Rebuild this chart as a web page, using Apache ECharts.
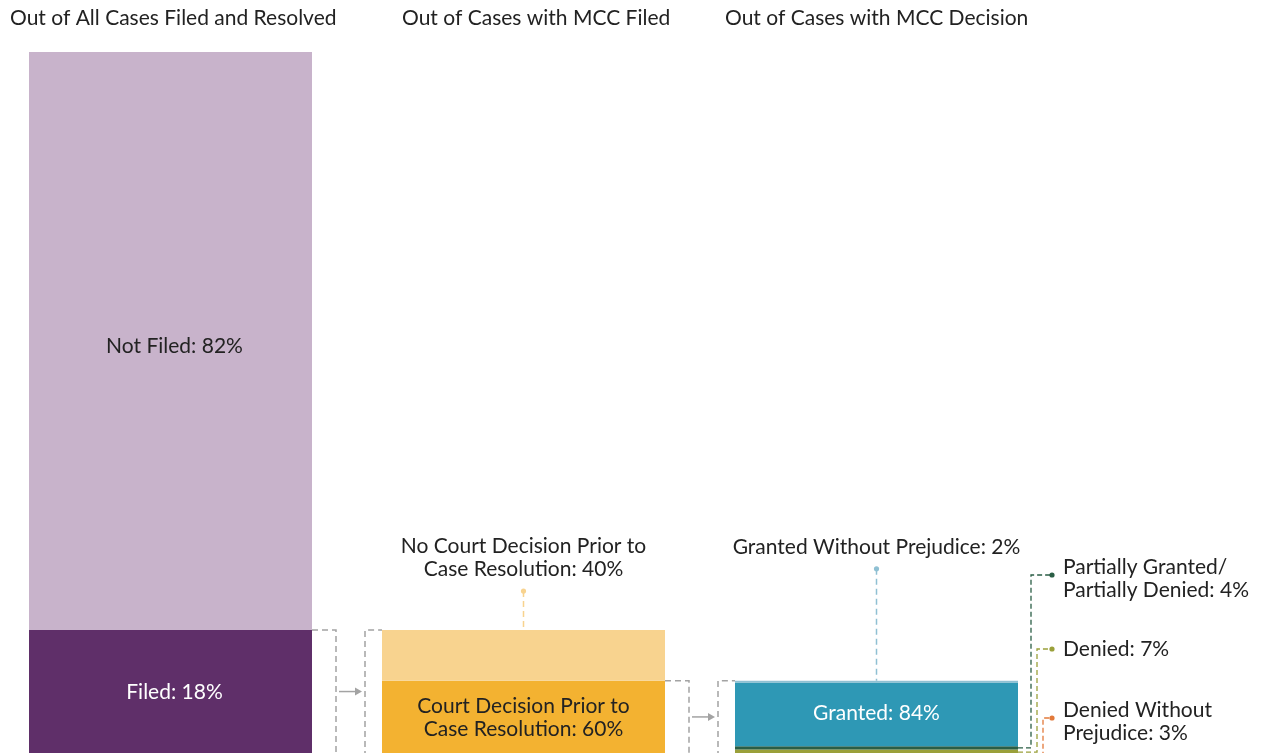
<!DOCTYPE html>
<html>
<head>
<meta charset="utf-8">
<script src="https://cdn.jsdelivr.net/npm/echarts@6/dist/echarts.min.js"></script>
<style>
html, body { margin: 0; padding: 0; background: #fff; overflow: hidden; }
#main { width: 1263px; height: 760px; }
</style>
</head>
<body>
<div id="main"></div>
<script>
// 数据
const stageTitles = ['Out of All Cases Filed and Resolved', 'Out of Cases with MCC Filed', 'Out of Cases with MCC Decision'];
const categories = ['All Cases', 'MCC Filed', 'MCC Decision'];
// stage 1 (bottom first)
const filedNames = ['Filed', 'Not Filed'];
const filedPct = [18, 82];
// stage 2, share of filed
const decisionNames = ['Court Decision Prior to\nCase Resolution', 'No Court Decision Prior to\nCase Resolution'];
const decisionPct = [60, 40];
// stage 3, share of court decisions
const outcomeNames = ['Denied Without\nPrejudice', 'Denied', 'Partially Granted/\nPartially Denied', 'Granted', 'Granted Without Prejudice'];
const outcomePct = [3, 7, 4, 84, 2];

const FONT = 'Lato, "Noto Sans", sans-serif';
const FS = 21;
const TEXT = '#222';
const BAR_W = 283;

const filedColors = ['#5f2f69', '#c8b3cb'];
const decisionColors = ['#f3b231', '#f8d38f'];
const outcomeColors = ['#e2793a', '#9aa03a', '#2a5e45', '#2e98b5', '#8fc0d3'];
// which segments carry their label inside the bar
const filedInside = ['#fff', TEXT];
const decisionInside = [TEXT, null];
const outcomeInside = [null, null, null, '#fff', null];
const insideOffset = [[4, -1], [4, 5]];

let chart = echarts.init(document.getElementById('main'));

const series = [];
function addStage(idx, names, pct, scale, colors, inside) {
  names.forEach((n, i) => {
    series.push({
      name: n,
      type: 'bar',
      stack: 'total',
      barWidth: BAR_W,
      clip: false,
      data: categories.map((c, j) => j === idx ? pct[i] * scale / 100 : '-'),
      itemStyle: { color: colors[i] },
      emphasis: { disabled: true },
      label: {
        show: !!inside[i],
        position: 'inside',
        offset: idx === 0 ? insideOffset[i] : [0, -1],
        color: inside[i] || TEXT,
        fontFamily: FONT,
        fontSize: FS,
        lineHeight: 23,
        formatter: () => n.replace('\n', ' ').replace('Prior to ', 'Prior to\n') + ': ' + pct[i] + '%'
      }
    });
  });
}
const filedTotal = filedPct[0];
const decidedTotal = filedTotal * decisionPct[0] / 100;
addStage(0, filedNames, filedPct, 100, filedColors, filedInside);
addStage(1, decisionNames, decisionPct, filedTotal, decisionColors, decisionInside);
addStage(2, outcomeNames, outcomePct, decidedTotal, outcomeColors, outcomeInside);

chart.setOption({
  animation: false,
  grid: { left: 170.5, right: 1263 - 876.5, top: 52, bottom: 3 },
  xAxis: { type: 'category', data: categories, boundaryGap: false, show: false },
  yAxis: { type: 'value', min: 0, max: 100, show: false },
  series: series
});

// 注释和连接线
const px = (ci, v) => chart.convertToPixel({ gridIndex: 0 }, [ci, v]);
const half = BAR_W / 2;
const G = [];
const gray = '#a3a3a3';
const dash = [6, 4];
const bottomY = px(0, 0)[1];

// titles
const titleX = [10, 402, 725];
stageTitles.forEach((t, i) => {
  G.push({ type: 'text', style: { text: t, x: titleX[i], y: 18, fill: TEXT, font: FS + 'px ' + FONT, verticalAlign: 'middle' } });
});

// stage connectors
const passTop = [filedTotal, decidedTotal];
[0, 1].forEach(k => {
  const p = px(k, passTop[k]);
  const xr = p[0] + half;
  const y = p[1];
  const xl = px(k + 1, 0)[0] - half;
  const xa = xr + 24, xb = xl - 17;
  G.push({ type: 'polyline', shape: { points: [[xr, y], [xa, y], [xa, bottomY]] }, style: { stroke: gray, lineWidth: 1.5, lineDash: dash, fill: null } });
  G.push({ type: 'polyline', shape: { points: [[xb, bottomY], [xb, y], [xl, y]] }, style: { stroke: gray, lineWidth: 1.5, lineDash: dash, fill: null } });
  const ym = (y + bottomY) / 2 - 2;
  G.push({ type: 'line', shape: { x1: xa + 3, y1: ym, x2: xb - 8, y2: ym }, style: { stroke: gray, lineWidth: 1.5 } });
  G.push({ type: 'polygon', shape: { points: [[xb - 3, ym], [xb - 10, ym - 4], [xb - 10, ym + 4]] }, style: { fill: gray } });
});

function dot(x, y, c) {
  G.push({ type: 'circle', shape: { cx: x, cy: y, r: 2.6 }, style: { fill: c } });
}

// labels above bars
function topNote(ci, total, text, color, rise) {
  const p = px(ci, total);
  const dy = p[1] - rise;
  G.push({ type: 'line', shape: { x1: p[0], y1: dy, x2: p[0], y2: p[1] }, style: { stroke: color, lineWidth: 1.5, lineDash: dash } });
  dot(p[0], dy, color);
  G.push({ type: 'text', style: { text: text, x: p[0], y: dy - 10, fill: TEXT, font: FS + 'px ' + FONT, lineHeight: 23, align: 'center', verticalAlign: 'bottom' } });
}
topNote(1, filedTotal, decisionNames[1] + ': ' + decisionPct[1] + '%', decisionColors[1], 39);
topNote(2, decidedTotal, outcomeNames[4] + ': ' + outcomePct[4] + '%', outcomeColors[4], 112);

// labels right of the small segments
const sideDotY = { 2: 575, 1: 649, 0: 718 };
const sideX = { 2: 1031, 1: 1037, 0: 1043 };
[2, 1, 0].forEach(i => {
  let below = 0;
  for (let j = 0; j < i; j++) below += outcomePct[j];
  const mid = (below + outcomePct[i] / 2) * decidedTotal / 100;
  const p = px(2, mid);
  const x0 = p[0] + half;
  const c = outcomeColors[i];
  const dy = sideDotY[i];
  G.push({ type: 'polyline', shape: { points: [[x0, p[1]], [sideX[i], p[1]], [sideX[i], dy], [1052, dy]] }, style: { stroke: c, lineWidth: 1.3, lineDash: [5, 3], fill: null } });
  dot(1052, dy, c);
  const twoLine = outcomeNames[i].indexOf('\n') >= 0;
  G.push({ type: 'text', style: { text: outcomeNames[i] + ': ' + outcomePct[i] + '%', x: 1063, y: twoLine ? dy - 19.5 : dy - 11.5, fill: TEXT, font: FS + 'px ' + FONT, lineHeight: 23, verticalAlign: 'top' } });
});

chart.setOption({ graphic: { elements: G } });
</script>
</body>
</html>
